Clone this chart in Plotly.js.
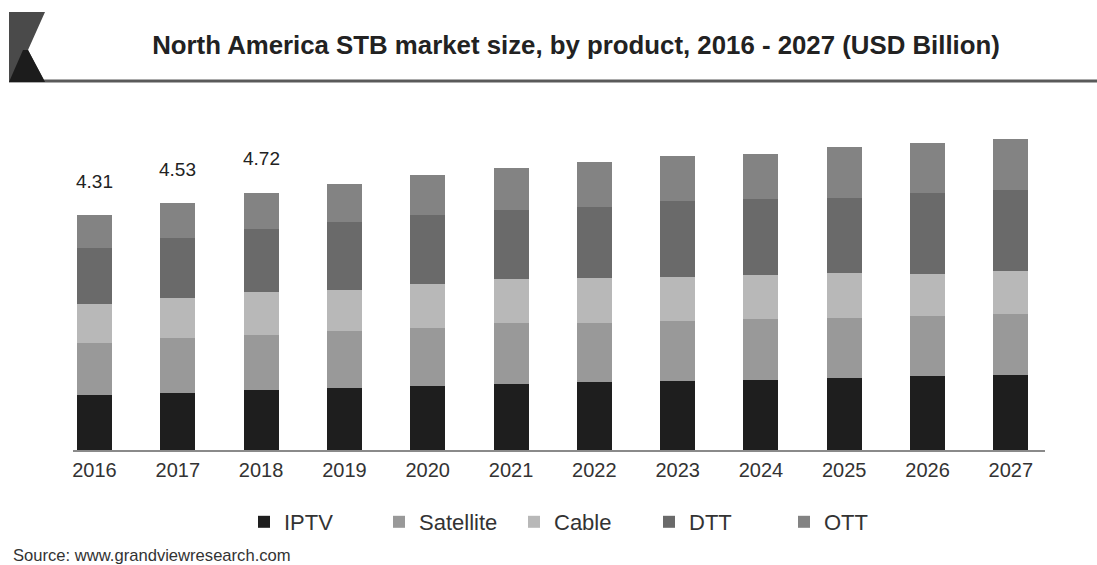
<!DOCTYPE html>
<html>
<head>
<meta charset="utf-8">
<script src="https://cdn.plot.ly/plotly-3.0.1.min.js"></script>
<style>html,body{margin:0;padding:0;background:#fff;}#chart{width:1097px;height:565px;}</style>
</head>
<body>
<div id="chart"></div>
<script>
const years = ['2016','2017','2018','2019','2020','2021','2022','2023','2024','2025','2026','2027'];
const iptv      = [1.01,1.05,1.10,1.13,1.17,1.22,1.25,1.27,1.29,1.32,1.36,1.38];
const satellite = [0.95,1.01,1.01,1.06,1.07,1.11,1.08,1.10,1.11,1.10,1.09,1.11];
const cable     = [0.72,0.73,0.78,0.74,0.80,0.81,0.83,0.81,0.81,0.82,0.78,0.79];
const dtt       = [1.03,1.10,1.17,1.25,1.27,1.26,1.30,1.38,1.39,1.39,1.48,1.49];
const ott       = [0.60,0.64,0.66,0.70,0.73,0.78,0.83,0.83,0.84,0.93,0.92,0.94];
const totalYears  = ['2016','2017','2018'];
const totalValues = [4.31,4.53,4.72];

const seriesNames  = ['IPTV','Satellite','Cable','DTT','OTT'];
const seriesValues = [iptv, satellite, cable, dtt, ott];
const seriesColors = ['#1e1e1e','#999999','#b8b8b8','#6a6a6a','#838383'];

const W = 1097, H = 565;
const L = 73, R = 52, T = 123, B = 115;
const pw = W - L - R, ph = H - T - B;
const px = x => (x - L) / pw;
const py = y => (H - B - y) / ph;
const FONT = 'Liberation Sans, Arial, sans-serif';

const traces = seriesNames.map((n, i) => ({
  type: 'bar', name: n, x: years, y: seriesValues[i],
  marker: {color: seriesColors[i], line: {width: 0}},
  hoverinfo: 'x+y+name'
}));

const annotations = totalYears.map((yr, i) => ({
  x: years.indexOf(yr), y: totalValues[i], xref: 'x', yref: 'y',
  text: totalValues[i].toFixed(2), showarrow: false,
  xanchor: 'center', yanchor: 'middle', yshift: 34,
  font: {family: FONT, size: 19, color: '#222'}
}));
annotations.push({
  xref: 'paper', yref: 'paper', x: px(11), y: py(555),
  xanchor: 'left', yanchor: 'middle', showarrow: false,
  text: 'Source: www.grandviewresearch.com',
  font: {family: FONT, size: 16.6, color: '#333'}
});

const shapes = [
  {type: 'line', xref: 'paper', yref: 'paper', x0: px(9), x1: px(1097), y0: py(81), y1: py(81),
   line: {color: '#5a5a5a', width: 3}},
  {type: 'path', xref: 'paper', yref: 'paper',
   path: `M${px(9)},${py(12)} L${px(45)},${py(12)} L${px(28)},${py(50)} L${px(45)},${py(82)} L${px(9)},${py(82)} Z`,
   fillcolor: '#4a4a4a', line: {width: 0}},
  {type: 'path', xref: 'paper', yref: 'paper',
   path: `M${px(9)},${py(82)} L${px(23)},${py(50)} L${px(28)},${py(50)} L${px(45)},${py(82)} Z`,
   fillcolor: '#1c1c1c', line: {width: 0}}
];

const layout = {
  width: W, height: H,
  margin: {l: L, r: R, t: T, b: B, pad: 0},
  paper_bgcolor: '#fff', plot_bgcolor: '#fff',
  barmode: 'stack', bargap: 0.58,
  font: {family: FONT, color: '#333'},
  title: {
    text: '<b>North America STB market size, by product, 2016 - 2027 (USD Billion)</b>',
    x: 576 / W, xanchor: 'center', y: 1 - 45 / H, yanchor: 'middle',
    font: {family: FONT, size: 25.8, color: '#222'}
  },
  xaxis: {
    type: 'category', range: [-0.258, 11.41],
    showline: true, linecolor: '#8a8a8a', linewidth: 1.5,
    ticks: '', showgrid: false, zeroline: false, ticklabelstandoff: 1,
    tickfont: {size: 20, color: '#333'}
  },
  yaxis: {range: [0, 6], showticklabels: false, showline: false, ticks: '',
          showgrid: false, zeroline: false},
  showlegend: true,
  legend: {
    orientation: 'h', traceorder: 'normal',
    x: px(244), xanchor: 'left', y: py(522), yanchor: 'middle',
    entrywidth: 90, entrywidthmode: 'pixels',
    font: {size: 22, color: '#333'}, bgcolor: 'rgba(0,0,0,0)'
  },
  annotations: annotations,
  shapes: shapes
};

Plotly.newPlot('chart', traces, layout, {displayModeBar: false, staticPlot: true});
</script>
</body>
</html>
